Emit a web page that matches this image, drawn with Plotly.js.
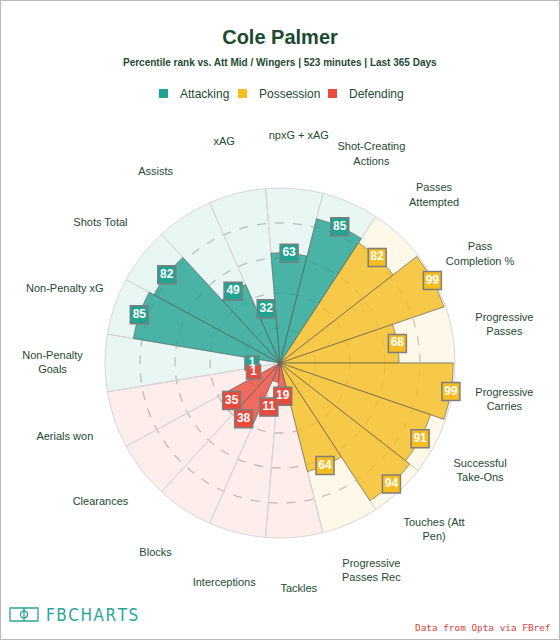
<!DOCTYPE html>
<html>
<head>
<meta charset="utf-8">
<script src="https://cdn.plot.ly/plotly-3.0.1.min.js"></script>
<style>
  html, body { margin: 0; padding: 0; background: #fff; }
  #wrap { position: relative; width: 560px; height: 640px; }
  #chart { width: 560px; height: 640px; }
  #frame { position: absolute; left: 0; top: 0; width: 560px; height: 640px; box-sizing: border-box; border: 1px solid #b9b9b9; pointer-events: none; }
</style>
</head>
<body>
<div id="wrap"><div id="chart"></div><div id="frame"></div></div>
<script>
// ---- data ----
const categories = [
  "Non-Penalty<br>Goals", "Non-Penalty xG", "Shots Total", "Assists", "xAG", "npxG + xAG",
  "Shot-Creating<br>Actions", "Passes<br>Attempted", "Pass<br>Completion %", "Progressive<br>Passes",
  "Progressive<br>Carries", "Successful<br>Take-Ons", "Touches (Att<br>Pen)", "Progressive<br>Passes Rec",
  "Tackles", "Interceptions", "Blocks", "Clearances", "Aerials won"
];
const values = [1, 85, 82, 49, 32, 63, 85, 82, 99, 68, 99, 91, 94, 64, 19, 11, 38, 35, 1];
const groups = [
  "Attacking", "Attacking", "Attacking", "Attacking", "Attacking", "Attacking", "Attacking",
  "Possession", "Possession", "Possession", "Possession", "Possession", "Possession", "Possession",
  "Defending", "Defending", "Defending", "Defending", "Defending"
];
const groupNames = ["Attacking", "Possession", "Defending"];
const title = "Cole Palmer";
const subtitle = "Percentile rank vs. Att Mid / Wingers | 523 minutes | Last 365 Days";
const credit = "Data from Opta via FBref";
const brand = "FBCHARTS";

// ---- styles ----
const base = { Attacking: [33, 163, 146], Possession: [245, 189, 31], Defending: [234, 74, 60] };
const rgba = (c, a) => `rgba(${c[0]},${c[1]},${c[2]},${a})`;
const textColor = "#1e4a31";
const font = "Liberation Sans, Arial, sans-serif";

const n = categories.length;
const step = 360 / n;
const theta = categories.map((_, i) => i * step);
const full = categories.map(() => 100);

// label radius: at value, minimum 16, pushed outward if overlapping previous label
const labelR = [];
for (let i = 0; i < n; i++) {
  let r = Math.max(values[i], 16);
  if (i > 0) {
    const a0 = theta[i - 1] * Math.PI / 180, a1 = theta[i] * Math.PI / 180;
    const x0 = labelR[i - 1] * Math.cos(a0), y0 = labelR[i - 1] * Math.sin(a0);
    while (Math.hypot(r * Math.cos(a1) - x0, r * Math.sin(a1) - y0) < 10) r += 1;
  }
  labelR.push(r);
}

const traces = [];
// background bands
traces.push({
  type: "barpolar", r: full, theta: theta, width: categories.map(() => step),
  marker: { color: groups.map(g => rgba(base[g], 0.1)), line: { color: "#d6d6d6", width: 1 } },
  hoverinfo: "skip", showlegend: false
});
// value bars
traces.push({
  type: "barpolar", r: values, theta: theta, width: categories.map(() => step),
  marker: { color: groups.map(g => rgba(base[g], 0.8)), line: { color: "rgba(95,95,95,0.6)", width: 1 } },
  hoverinfo: "skip", showlegend: false
});
// value labels
traces.push({
  type: "scatterpolar", mode: "markers+text", r: labelR, theta: theta,
  text: values.map(String), textposition: "middle center", cliponaxis: false,
  textfont: { family: font, size: 12, color: "#ffffff", weight: "bold" },
  marker: {
    symbol: "square", size: values.map(v => String(v).length > 1 ? 18 : 14), opacity: 1,
    color: groups.map(g => rgba(base[g], 1)), line: { color: "#7d7d7d", width: 1.5 }
  },
  hoverinfo: "skip", showlegend: false
});
// category labels
traces.push({
  type: "scatterpolar", mode: "text", r: categories.map(() => 130), theta: theta,
  text: categories, textposition: "middle center", cliponaxis: false,
  textfont: { family: font, size: 11, color: textColor },
  hoverinfo: "skip", showlegend: false
});

// manual legend (pixel layout converted to paper since margins are 0)
const W = 560, H = 640;
const px = x => x / W, py = y => 1 - y / H;
const legendX = [159, 238, 328];
const shapes = [];
const annotations = [];
groupNames.forEach((g, k) => {
  shapes.push({ type: "rect", xref: "paper", yref: "paper",
    x0: px(legendX[k]), x1: px(legendX[k] + 9), y0: py(98), y1: py(89),
    fillcolor: rgba(base[g], 1), line: { width: 0 } });
  annotations.push({ xref: "paper", yref: "paper", x: px(legendX[k] + 19), y: py(93.5),
    xanchor: "left", yanchor: "middle", showarrow: false, text: g,
    font: { family: font, size: 12, color: textColor } });
});
// subtitle
annotations.push({ xref: "paper", yref: "paper", x: 0.5, y: py(62), xanchor: "center", yanchor: "middle",
  showarrow: false, text: "<b>" + subtitle + "</b>", font: { family: font, size: 10, color: textColor } });
// credit
annotations.push({ xref: "paper", yref: "paper", x: px(552), y: py(627), xanchor: "right", yanchor: "middle",
  showarrow: false, text: credit, font: { family: "DejaVu Sans Mono, Liberation Mono, monospace", size: 9.4, color: "#d8453a" } });
// brand
annotations.push({ xref: "paper", yref: "paper", x: px(44), y: py(615), xanchor: "left", yanchor: "middle",
  showarrow: false, text: brand.split("").join("\u200A"),
  font: { family: "Liberation Sans Narrow, DejaVu Sans Condensed, sans-serif", size: 17, color: "#2aa597" } });
const teal = "#2aa597";
shapes.push({ type: "rect", xref: "paper", yref: "paper", x0: px(10), x1: px(38), y0: py(621), y1: py(608),
  line: { color: teal, width: 1.3 }, fillcolor: "rgba(0,0,0,0)" });
shapes.push({ type: "line", xref: "paper", yref: "paper", x0: px(24), x1: px(24), y0: py(621), y1: py(608),
  line: { color: teal, width: 1.3 } });
shapes.push({ type: "circle", xref: "paper", yref: "paper", x0: px(20.5), x1: px(27.5), y0: py(618), y1: py(611),
  line: { color: teal, width: 1.3 }, fillcolor: "rgba(0,0,0,0)" });

const cx = 280, cy = 363, R = 175 * 1.35;
const layout = {
  width: W, height: H,
  margin: { l: 0, r: 0, t: 0, b: 0 },
  paper_bgcolor: "#ffffff",
  showlegend: false,
  title: { text: "<b>" + title + "</b>", x: 0.5, xanchor: "center", y: py(37), yanchor: "middle", yref: "container",
    font: { family: font, size: 20, color: "#1b4a2f" } },
  polar: {
    domain: { x: [px(cx - R), px(cx + R)], y: [py(cy + R), py(cy - R)] },
    bgcolor: "rgba(0,0,0,0)",
    hole: 0,
    barmode: "overlay",
    bargap: 0,
    radialaxis: { range: [0, 135], tickvals: [20, 40, 60, 80], showticklabels: false, ticks: "",
      showline: false, gridcolor: "#c4c4c4", gridwidth: 1.3, griddash: "dash" },
    angularaxis: { rotation: 180, direction: "clockwise", thetaunit: "degrees", showgrid: false,
      showline: false, showticklabels: false, ticks: "" }
  },
  shapes: shapes,
  annotations: annotations
};

Plotly.newPlot("chart", traces, layout, { displayModeBar: false, staticPlot: true });
</script>
</body>
</html>
